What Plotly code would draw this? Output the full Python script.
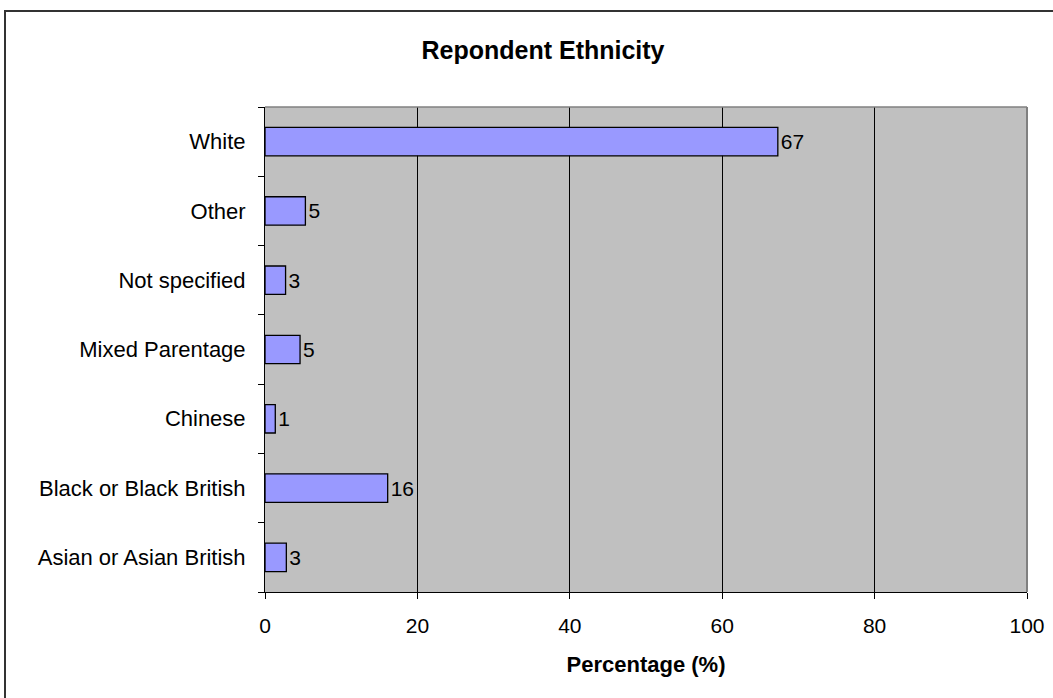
import plotly.graph_objects as go

categories = ["Asian or Asian British", "Black or Black British", "Chinese",
              "Mixed Parentage", "Not specified", "Other", "White"]
values = [2.8, 16.1, 1.35, 4.6, 2.7, 5.3, 67.3]
labels = [str(round(v)) for v in values]
x_ticks = [0, 20, 40, 60, 80, 100]

W, H = 1053, 698
L, R, T, B = 265, 26, 107, 106
pw, ph = W - L - R, H - T - B

def px_x(p):
    return (p - L) / pw

def px_y(p):
    return (H - B - p) / ph

font = "Liberation Sans, Arial, sans-serif"

fig = go.Figure(go.Bar(
    y=categories, x=values, orientation="h",
    marker=dict(color="#9999FF", line=dict(color="#000000", width=1.3)),
    text=labels, textposition="outside", cliponaxis=False,
    textfont=dict(family=font, size=21, color="#000000"),
    width=0.41,
))

fig.update_layout(
    width=W, height=H,
    margin=dict(l=L, r=R, t=T, b=B, autoexpand=False),
    paper_bgcolor="white", plot_bgcolor="#C0C0C0",
    showlegend=False,
    title=dict(text="<b>Repondent Ethnicity</b>", x=px_x(543), xref="paper",
               xanchor="center", y=1 - 50 / H, yanchor="middle",
               font=dict(family=font, size=25, color="#000000")),
    xaxis=dict(range=[0, 100], tickvals=x_ticks, showgrid=True,
               gridcolor="#000000", gridwidth=1, zeroline=False,
               showline=True, linecolor="#000000", linewidth=1,
               ticks="outside", ticklen=6, tickcolor="#000000",
               tickfont=dict(family=font, size=21, color="#000000"),
               ticklabelstandoff=9, automargin=False,
               title=dict(text="<b>Percentage (%)</b>", standoff=20,
                          font=dict(family=font, size=22, color="#000000"))),
    yaxis=dict(type="category", categoryorder="array", categoryarray=categories,
               showgrid=False, zeroline=False,
               showline=True, linecolor="#000000", linewidth=1,
               ticks="outside", ticklen=6, tickcolor="#000000",
               tickson="boundaries", automargin=False,
               tickfont=dict(family=font, size=22, color="#000000"),
               ticklabelstandoff=14),
    bargap=0.59,
    shapes=[
        dict(type="line", xref="paper", yref="paper", x0=0, x1=1, y0=1, y1=1,
             line=dict(color="#808080", width=1.5)),
        dict(type="line", xref="paper", yref="paper", x0=1, x1=1, y0=0, y1=1,
             line=dict(color="#808080", width=2)),
        dict(type="rect", xref="paper", yref="paper",
             x0=px_x(5), x1=px_x(1070), y0=px_y(720), y1=px_y(11),
             line=dict(color="#333333", width=2), layer="below"),
    ],
)

fig.write_html("out.html")
